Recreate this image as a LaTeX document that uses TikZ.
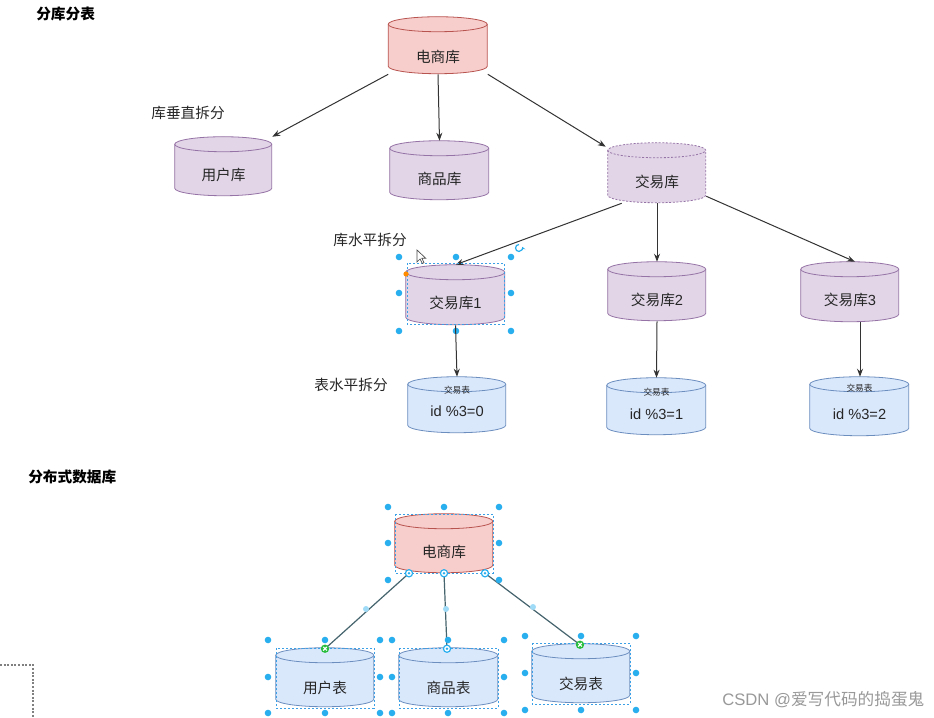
\documentclass[tikz,border=0pt]{standalone}
\usepackage{fontspec}
\setmainfont{Noto Sans CJK SC}
\newfontfamily\latn{Liberation Sans}
\usetikzlibrary{arrows.meta,calc}
\definecolor{redfill}{HTML}{F8CECC}
\definecolor{redline}{HTML}{B85450}
\definecolor{purfill}{HTML}{E1D5E7}
\definecolor{purline}{HTML}{9673A6}
\definecolor{bluefill}{HTML}{DAE8FC}
\definecolor{blueline}{HTML}{6C8EBF}
\definecolor{hdlc}{RGB}{41,175,238}
\definecolor{selc}{RGB}{60,160,230}
\definecolor{linkc}{RGB}{70,100,110}
\definecolor{okgreen}{RGB}{40,190,60}
% name, cx, cy, w, h, fill, stroke, text, extra style
\newcommand\dbcyl[9]{%
  \node[minimum width=#4*0.75pt, minimum height=#5*0.75pt, inner sep=0pt] (#1) at (#2,-#3) {};
  \filldraw[fill=#6, draw=#7, line width=0.6pt, #9] ($(#1.north west)+(0,-7.5)$) -- ++(0,{-(#5)+15})
     arc[start angle=180,end angle=360,x radius=#4/2,y radius=7.5] -- ++(0,{#5-15})
     arc[start angle=0,end angle=180,x radius=#4/2,y radius=7.5] -- cycle;
  \draw[draw=#7, line width=0.6pt, #9] ($(#1.north west)+(0,-7.5)$) arc[start angle=180,end angle=360,x radius=#4/2,y radius=7.5];
}
\begin{document}
\begin{tikzpicture}[x=0.75pt,y=0.75pt,
  lbl/.style={font=\fontsize{11pt}{13pt}\selectfont, text=black!85, inner sep=0pt},
  small/.style={font=\fontsize{6.5pt}{8pt}\selectfont, text=black!85, inner sep=0pt},
  ttl/.style={font=\bfseries\fontsize{11pt}{13pt}\selectfont, anchor=west, inner sep=0pt},
  arr/.style={draw=black!80, line width=0.75pt, -{Stealth[length=6pt,width=4.5pt]}},
  link/.style={draw=linkc, line width=0.9pt},
  selbox/.style={draw=selc, dash pattern=on 1.5pt off 1.5pt, line width=0.5pt},
  ring/.style={draw=hdlc, fill=white, line width=0.9pt}]
\useasboundingbox (0,0) rectangle (934,-717);
\fill[white] (0,0) rectangle (934,-717);

% ---------- top: 分库分表 ----------
\node[ttl] (title1) at (36,-14) {分库分表};
\dbcyl{db}{438}{45.5}{99}{57}{redfill}{redline}{}{}
\node[lbl] (db-t) at (438,-57) {电商库};

\dbcyl{user}{223.5}{166.5}{97}{59}{purfill}{purline}{}{}
\node[lbl] (user-t) at (223.5,-175) {用户库};
\dbcyl{goods}{439.5}{170.5}{99}{59}{purfill}{purline}{}{}
\node[lbl] (goods-t) at (439.5,-179) {商品库};
\dbcyl{trade}{657}{173}{98}{60}{purfill}{purline}{}{dash pattern=on 1.5pt off 1.2pt}
\node[lbl] (trade-t) at (657,-182) {交易库};

\node[lbl] (vsplit) at (188,-113) {库垂直拆分};

\draw[arr] (db.south west) -- (user.north east);
\draw[arr] (db.south) -- (goods.north);
\draw[arr] (db.south east) -- ($(trade.north west)+(-2,-4)$);

\node[lbl] (hsplit) at (370,-240) {库水平拆分};

\dbcyl{t1}{455.5}{295}{99}{60}{purfill}{purline}{}{}
\node[lbl] (t1-t) at (455.5,-303) {交易库{\latn 1}};
\dbcyl{t2}{657}{291.5}{98}{59}{purfill}{purline}{}{}
\node[lbl] (t2-t) at (657,-300) {交易库{\latn 2}};
\dbcyl{t3}{850}{292}{98}{60}{purfill}{purline}{}{}
\node[lbl] (t3-t) at (850,-300) {交易库{\latn 3}};

\draw[arr] ($(trade.south west)+(14,0)$) -- (t1.north);
\draw[arr] (trade.south) -- (t2.north);
\draw[arr] ($(trade.south east)+(0,7)$) -- ($(t3.north)+(5,0)$);

% selection of 交易库1
\draw[selbox] (407,-263) rectangle (504,-324);
\foreach \x/\y in {399/257,456/257,511/257,399/293,511/293,399/331,456/331,511/331}
  \fill[hdlc] (\x,-\y) circle[radius=3.3];
\fill[orange!90!yellow] (406,-274) circle[radius=2.6];
\draw[hdlc, line width=0.9pt, -{Stealth[length=2.5pt,width=3pt]}] (519,-244.5) arc[start angle=90,end angle=380,radius=3.5];
% mouse cursor
\filldraw[fill=white, draw=black!70, line width=0.5pt]
  (417,-250) -- (417,-262) -- (420,-259) -- (422.3,-263.5) -- (424,-262.7) -- (421.8,-258.3) -- (425.8,-258.3) -- cycle;

\node[lbl] (tsplit) at (351,-385) {表水平拆分};

\dbcyl{tb0}{457}{405}{98}{56}{bluefill}{blueline}{}{}
\node[small] (tb0-s) at (457,-390) {交易表};
\node[lbl, font=\latn\fontsize{11pt}{13pt}\selectfont] (tb0-t) at (457,-411) {id \%3=0};
\dbcyl{tb1}{656.5}{406.5}{99}{57}{bluefill}{blueline}{}{}
\node[small] (tb1-s) at (656.5,-392) {交易表};
\node[lbl, font=\latn\fontsize{11pt}{13pt}\selectfont] (tb1-t) at (656.5,-414) {id \%3=1};
\dbcyl{tb2}{859.5}{406.5}{99}{59}{bluefill}{blueline}{}{}
\node[small] (tb2-s) at (859.5,-388) {交易表};
\node[lbl, font=\latn\fontsize{11pt}{13pt}\selectfont] (tb2-t) at (859.5,-414) {id \%3=2};

\draw[arr] (t1.south) -- (tb0.north);
\draw[arr] (t2.south) -- (tb1.north);
\draw[arr] ($(t3.south)+(10,0)$) -- ($(tb2.north)+(0.5,0)$);

% ---------- bottom: 分布式数据库 ----------
\node[ttl] (title2) at (28,-477) {分布式数据库};

\dbcyl{ddb}{444}{543.5}{98}{59}{redfill}{redline}{}{}
\node[lbl] (ddb-t) at (444,-552) {电商库};
\dbcyl{ut}{325}{677.5}{98}{59}{bluefill}{blueline}{}{}
\node[lbl] (ut-t) at (325,-688) {用户表};
\dbcyl{gt}{448.5}{677.5}{99}{59}{bluefill}{blueline}{}{}
\node[lbl] (gt-t) at (448.5,-688) {商品表};
\dbcyl{tt}{581}{673.5}{98}{59}{bluefill}{blueline}{}{}
\node[lbl] (tt-t) at (581,-684) {交易表};

\coordinate (p1) at ($(ddb.south)+(-35,0)$);
\coordinate (p3) at ($(ddb.south)+(41,0)$);
\coordinate (q1) at ($(ut.north)+(0,-1)$);
\coordinate (q2) at ($(gt.north)+(-1.5,-1)$);
\coordinate (q3) at ($(tt.north)+(-1,-1)$);
\draw[link] (p1) -- (q1);
\draw[link] (ddb.south) -- (q2);
\draw[link] (p3) -- (q3);

% selection boxes & handles
\draw[selbox] (395,-514) rectangle (493,-573);
\draw[selbox] (276,-648) rectangle (374,-708);
\draw[selbox] (399,-648) rectangle (498,-708);
\draw[selbox] (532,-643) rectangle (630,-704);
\foreach \x/\y in {388/507,444/507,499/507,388/543,499/543,388/580,499/580,
                   268/640,325/640,380/640,268/677,380/677,268/713,325/713,380/713,
                   392/640,448/640,504/640,392/677,504/677,392/713,448/713,504/713,
                   525/636,581/636,636/636,525/673,636/673,525/710,581/710,636/710}
  \fill[hdlc] (\x,-\y) circle[radius=3.3];
\foreach \x/\y in {366/609,446/609,533/607}
  \fill[hdlc!45] (\x,-\y) circle[radius=3];
\foreach \c in {p1,ddb.south,p3,q2}{
  \draw[ring] (\c) circle[radius=3.6];
  \fill[hdlc] (\c) circle[radius=1.3];
}
\foreach \c in {q1,q3}{
  \fill[okgreen] (\c) circle[radius=4.2];
  \draw[white, line width=0.8pt] ($(\c)+(-1.8,-1.8)$) -- ($(\c)+(1.8,1.8)$) ($(\c)+(-1.8,1.8)$) -- ($(\c)+(1.8,-1.8)$);
}

% dotted corner at bottom left
\draw[black!50, dash pattern=on 1.5pt off 1.2pt, line width=0.8pt] (0,-665) -- (33,-665) -- (33,-717);

% watermark
\node[font=\fontsize{12.5pt}{14pt}\selectfont, text=black!40, anchor=west, inner sep=0pt] (wm) at (722,-700) {{\latn CSDN @}爱写代码的捣蛋鬼};
\end{tikzpicture}
\end{document}
